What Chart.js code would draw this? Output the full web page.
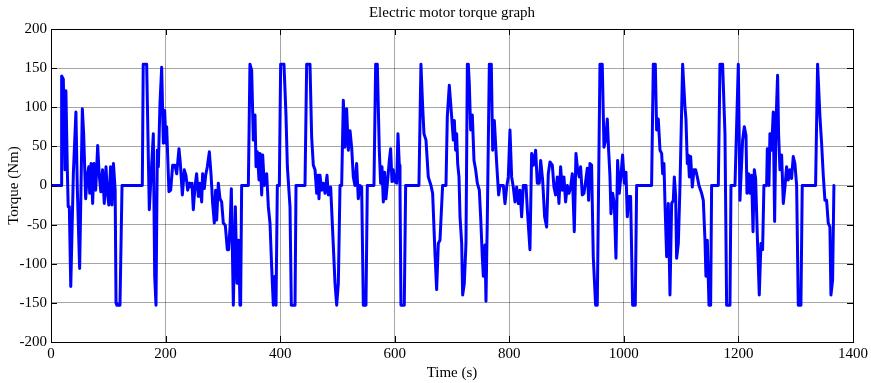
<!DOCTYPE html>
<html>
<head>
<meta charset="utf-8">
<script src="https://cdn.jsdelivr.net/npm/chart.js@4/dist/chart.umd.min.js"></script>
<style>
  body { margin: 0; background: #fff; }
  #wrap { width: 871px; height: 383px; }
</style>
</head>
<body>
<div id="wrap"><canvas id="torqueChart" width="871" height="383"></canvas></div>
<script>
// time (s) and motor torque (Nm)
const timeS = [
  0, 18, 18.6, 21.5, 24.4, 26, 28.5, 30, 32, 34.5, 39, 43.5, 46, 50, 54.7, 57, 60.5, 63, 66, 67.5,
  70, 72.7, 75, 78, 81.5, 84, 87, 90, 93, 96, 98.5, 101, 104, 106.5, 109, 112, 113.5, 115, 120.4, 124,
  159.4, 161, 167, 171.6, 178.6, 181, 183.3, 185.6, 187.4, 190.2, 193.2, 196.1, 198.4, 200.7, 201.9, 205.9, 208.9, 212.4, 216.4, 219.4,
  223.4, 225.8, 229.3, 232.7, 235.6, 238.6, 242, 244.4, 246.1, 248.4, 251.3, 254.2, 257.2, 260.1, 263, 264.7, 267.6, 270, 272.9, 276.4,
  279.3, 282.2, 285.1, 287.4, 289.2, 292.1, 295, 297.9, 300.8, 304.3, 307.8, 310.1, 312.5, 314.8, 318.3, 321.8, 324.7, 327.6, 329.9, 331,
  332.8, 344.5, 347.3, 350.3, 353.2, 356.1, 357.9, 360.2, 363.1, 364.9, 367.8, 369.5, 372.4, 376.5, 379.4, 382.3, 385.2, 388.1, 391, 392.8,
  395.1, 398.6, 400.9, 406.7, 410.2, 412.6, 417.2, 419.5, 426, 427.7, 443.4, 446.3, 452.1, 455, 457.9, 460.9, 463.8, 466.1, 467.8, 469.6,
  472.5, 475.4, 478.3, 481.8, 484.1, 488.2, 495.8, 498.7, 501.6, 504.5, 507.4, 510.3, 513.2, 516.1, 519, 522, 525, 527.7, 530.6, 533.5,
  536.4, 539.4, 542.3, 545.2, 549.8, 552.2, 563.8, 566.7, 569.6, 573.1, 575.4, 577.8, 580.1, 582.4, 584.7, 588.2, 590.6, 592.9, 595.2, 597.5,
  600.4, 603.4, 605.7, 608, 609.2, 610.9, 616.7, 619.1, 642.3, 645.8, 648.7, 651.1, 654.6, 658.6, 663.3, 666.2, 670.3, 673.2, 676.1, 679,
  683.6, 689.5, 691.8, 695.3, 699.4, 702.3, 704.1, 706.4, 708.1, 709.9, 712.2, 714, 716.9, 718.6, 721.5, 724.4, 726.8, 728.5, 730.2, 732.6,
  735.5, 738.4, 741.3, 744.2, 747.7, 750, 752.9, 754.7, 757.6, 759.3, 761.7, 765.2, 768.6, 771, 773.9, 778, 781.4, 783.8, 789.6, 792.5,
  795.4, 798.3, 801.2, 804.1, 807, 809.9, 812.9, 815.8, 818.7, 821.6, 824.5, 829.2, 831.5, 836.1, 839, 842, 846, 848.9, 852.4, 854.8,
  858.2, 861.7, 865.2, 868.1, 871, 875.1, 878, 880.9, 883.8, 886.7, 889.6, 892.5, 895.4, 898.3, 901.3, 904.2, 907.1, 910, 913.5, 916.4,
  919.3, 922.2, 924.5, 927.4, 930.3, 933.3, 936.2, 938.5, 940.8, 943.7, 946.6, 950.7, 953.6, 955.9, 958.3, 962.3, 965.3, 968.2, 971.1, 973.4,
  975.7, 977.5, 980.4, 983.3, 986.2, 989.1, 992, 994.9, 997.8, 1000.7, 1003.7, 1006, 1008.9, 1011.8, 1015.3, 1019.9, 1022.3, 1048.4, 1051.4, 1054.9,
  1057.2, 1060.1, 1063.1, 1066, 1067.7, 1070, 1071.8, 1074.7, 1077.6, 1080.5, 1083.4, 1086.3, 1088.1, 1090.4, 1092.1, 1095.1, 1098, 1102.6, 1106.7, 1108.4,
  1110.8, 1112.5, 1114.3, 1116.6, 1119.5, 1122.4, 1125.3, 1128.2, 1131.1, 1135.8, 1138.7, 1141.6, 1143.3, 1145.7, 1148.6, 1151.5, 1153.2, 1164.9, 1167.8, 1172.4,
  1176.5, 1179.4, 1185.2, 1187, 1194, 1199.8, 1202.7, 1207.3, 1210.3, 1213.2, 1214.9, 1217.8, 1220.1, 1223, 1225.5, 1227.7, 1230, 1232.9, 1236.4, 1239.3,
  1242.2, 1244.5, 1249.2, 1250.4, 1253.3, 1255, 1257.9, 1260.8, 1263.2, 1265.5, 1268.4, 1270.1, 1272.5, 1275.4, 1278.3, 1281.2, 1284.1, 1287, 1289.9, 1292.8,
  1295.7, 1298.6, 1301.6, 1304.5, 1309.1, 1311.4, 1334.7, 1338.2, 1342.3, 1345.2, 1348.1, 1351, 1353.9, 1356.8, 1359.7, 1361.5, 1364.4, 1366.7
];
const torqueNm = [
  0, 0, 140, 136, 20, 121, 20, -27, -27, -129, 15, 94, -6, -106, 98, 66, -17, 11, 24, -10,
  28, -23, 28, -6, 51, 15, -8, 20, -23, 24, -10, -25, 24, -25, 28, -6, -150, -153, -153, 0,
  0, 155, 155, -31, 66, -116, -153, 45, 24, 104, 151, 54, 96, 54, 75, -8, -6, 26, 26, 15,
  47, 28, -12, 20, 13, -6, 3, -2, 3, -31, -2, 15, -14, 3, -21, 15, -4, 13, 24, 43,
  15, -23, -48, -6, -44, 3, -17, -21, -48, -51, -82, -82, -53, -4, -153, -27, -125, -70, -153, -153,
  0, 0, 155, 147, 58, 90, 24, 43, 7, 41, -12, 39, 0, 15, -27, -48, -104, -153, -116, -153,
  0, 0, 155, 155, 90, 24, -27, -153, -153, 0, 0, 155, 155, 62, 26, 20, -10, 13, -17, 13,
  -6, 3, -10, 13, -12, -2, -125, -153, -125, 0, 0, 109, 49, 98, 45, 70, 47, 11, 0, 28,
  -17, 0, -2, -153, -153, 0, 0, 155, 155, 45, 3, 24, -21, 17, -17, 11, 32, 47, 5, 20,
  5, 3, 66, 26, 0, -153, -153, 0, 0, 155, 102, 66, 58, 11, 0, -10, -87, -133, -74, -70,
  0, 0, 88, 128, 88, 58, 83, 45, 66, 28, 11, -40, -74, -140, -125, -74, 155, 155, 130, 71,
  90, 32, 20, 3, -6, -40, -91, -116, -76, -148, -40, 155, 155, 45, 83, 28, -12, 0, 0, -23,
  -2, 11, 71, 11, -2, -21, -2, -23, -6, -40, 0, 0, -31, -82, 41, 26, 45, 3, 3, 32,
  7, -40, -53, 15, 30, 26, -2, -12, 11, -23, 24, -6, 11, -21, 0, -10, -2, 15, -59, 41,
  20, 11, 24, -12, -10, 5, 22, -19, 28, 26, -91, -153, -153, 0, 155, 155, 49, 58, 85, 45,
  13, -36, -10, -23, -93, 32, -10, 13, 39, 3, 17, -40, -14, -14, -153, -153, 0, 0, 155, 155,
  71, 85, 45, 41, 15, 28, -23, -91, -23, -140, -23, -19, 11, -14, -93, -74, 0, 155, 100, 85,
  28, 39, 11, 37, -2, 20, 20, 11, 0, -10, -19, -70, -116, -70, -153, -153, 0, 0, 155, 155,
  66, -153, -153, 0, 0, 155, -19, 58, 75, 64, -10, 15, -10, 13, -59, 20, 9, -63, -140, -74,
  -82, 0, 0, 47, 0, 66, 45, 94, -46, 79, 141, 66, 20, 39, -23, -2, 24, 7, 20, 9,
  37, 28, 0, -153, -153, 0, 0, 155, 88, 54, 13, -19, -19, -48, -53, -140, -121, 0
];
const xTicks = [0, 200, 400, 600, 800, 1000, 1200, 1400];
const yTicks = [-200, -150, -100, -50, 0, 50, 100, 150, 200];

const points = timeS.map((t, i) => ({ x: t, y: torqueNm[i] }));

Chart.defaults.font.family = '"Liberation Serif", "Times New Roman", serif';
Chart.defaults.font.size = 15;
Chart.defaults.color = "#000";

// box round the plot with inward tick marks, like the original figure
const frame = {
  id: "frame",
  afterDraw(chart) {
    const { ctx, chartArea: a, scales } = chart;
    ctx.save();
    ctx.strokeStyle = "#000";
    ctx.lineWidth = 1;
    ctx.strokeRect(a.left + 0.5, a.top + 0.5, a.right - a.left, a.bottom - a.top);
    ctx.beginPath();
    xTicks.forEach((v) => {
      const px = Math.round(scales.x.getPixelForValue(v)) + 0.5;
      ctx.moveTo(px, a.bottom); ctx.lineTo(px, a.bottom - 6);
      ctx.moveTo(px, a.top); ctx.lineTo(px, a.top + 6);
    });
    yTicks.forEach((v) => {
      const py = Math.round(scales.y.getPixelForValue(v)) + 0.5;
      ctx.moveTo(a.left, py); ctx.lineTo(a.left + 6, py);
      ctx.moveTo(a.right, py); ctx.lineTo(a.right - 6, py);
    });
    ctx.stroke();
    ctx.restore();
  },
};

new Chart(document.getElementById("torqueChart").getContext("2d"), {
  type: "line",
  data: {
    datasets: [
      {
        data: points,
        borderColor: "#0000ff",
        borderWidth: 3,
        borderJoinStyle: "round",
        borderCapStyle: "round",
        pointRadius: 0,
        tension: 0,
        fill: false,
      },
    ],
  },
  options: {
    responsive: false,
    animation: false,
    events: [],
    layout: { padding: { left: 0, right: 18, top: 0, bottom: 0 } },
    plugins: {
      legend: { display: false },
      tooltip: { enabled: false },
      title: {
        display: true,
        fullSize: false,
        text: "Electric motor torque graph",
        font: { size: 15, weight: "normal" },
        padding: { top: 4.5, bottom: 6.5 },
      },
    },
    scales: {
      x: {
        type: "linear",
        min: 0,
        max: 1400,
        afterBuildTicks: (s) => { s.ticks = xTicks.map((v) => ({ value: v })); },
        afterFit: (s) => { s.height = 41; },
        ticks: { padding: 3, callback: (v) => String(v) },
        grid: { color: "rgba(0,0,0,0.35)", drawTicks: false },
        border: { display: false },
        title: { display: true, text: "Time (s)", padding: { top: 0, bottom: 1 } },
      },
      y: {
        min: -200,
        max: 200,
        afterBuildTicks: (s) => { s.ticks = yTicks.map((v) => ({ value: v })); },
        afterFit: (s) => { s.width = 51; },
        ticks: { padding: 4, callback: (v) => String(v) },
        grid: { color: "rgba(0,0,0,0.35)", drawTicks: false },
        border: { display: false },
        title: { display: true, text: "Torque (Nm)", padding: { top: 5, bottom: 0 } },
      },
    },
  },
  plugins: [frame],
});
</script>
</body>
</html>
